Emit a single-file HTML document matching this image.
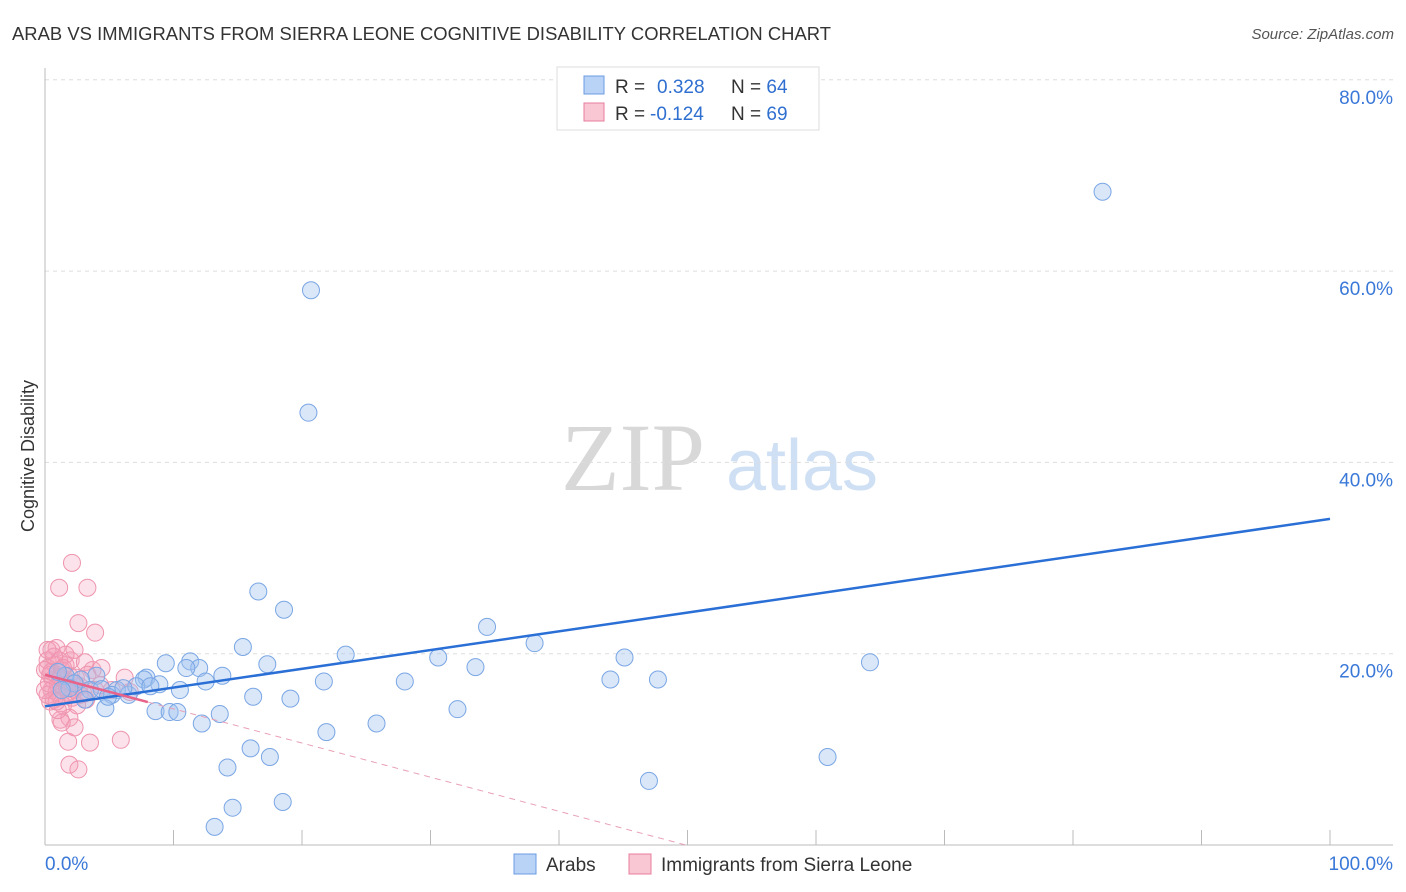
<!DOCTYPE html>
<html><head><meta charset="utf-8"><style>
body{margin:0;background:#fff;font-family:"Liberation Sans",sans-serif;}
svg{display:block}
</style></head><body>
<svg width="1406" height="892" xmlns="http://www.w3.org/2000/svg">
<text x="12" y="40" font-size="18.4" fill="#333" textLength="819">ARAB VS IMMIGRANTS FROM SIERRA LEONE COGNITIVE DISABILITY CORRELATION CHART</text>
<text x="1394" y="39" font-size="15" fill="#555" font-style="italic" text-anchor="end">Source: ZipAtlas.com</text>
<g>
<text x="633" y="490" font-size="96" font-family="Liberation Serif,serif" fill="#d8d8d8" text-anchor="middle">ZIP</text>
<text x="802" y="490" font-size="72" fill="#cfe0f5" text-anchor="middle">atlas</text>
</g>
<g id="grid"></g>
<g id="axes"></g>
<text transform="translate(34,456) rotate(-90)" font-size="18" fill="#333" text-anchor="middle">Cognitive Disability</text>
<g id="marks"></g>
<g>
<rect x="557" y="67" width="262" height="63" fill="#fff" stroke="#ddd"/>
<rect x="584" y="76" width="20" height="18" fill="#b9d3f7" stroke="#6a9be0"/>
<rect x="584" y="103" width="20" height="18" fill="#f9c6d4" stroke="#e87d9c"/>
<text x="615" y="93" font-size="19" fill="#333">R = <tspan fill="#2f6fd0" x="657">0.328</tspan><tspan x="731" fill="#333">N = </tspan><tspan fill="#2f6fd0">64</tspan></text>
<text x="615" y="120" font-size="19" fill="#333">R = <tspan fill="#2f6fd0" x="650">-0.124</tspan><tspan x="731" fill="#333">N = </tspan><tspan fill="#2f6fd0">69</tspan></text>
</g>
<g>
<rect x="514" y="854" width="22" height="20" fill="#b9d3f7" stroke="#6a9be0"/>
<text x="546" y="871" font-size="19" fill="#333">Arabs</text>
<rect x="629" y="854" width="22" height="20" fill="#f9c6d4" stroke="#e87d9c"/>
<text x="661" y="871" font-size="19" fill="#333">Immigrants from Sierra Leone</text>
</g>
</svg>
<script>
const yTicks=[20,40,60,80];
const yTickLabels=["20.0%","40.0%","60.0%","80.0%"];
const xEndLabels=["0.0%","100.0%"];
const arabX=[82.3,20.7,20.5,16.6,18.6,34.4,38.1,15.4,23.4,30.6,45.1,64.2,17.3,33.5,9.4,11.3,12.0,11.0,13.8,12.5,7.9,7.7,8.9,10.5,4.0,2.8,1.6,3.5,4.4,5.6,6.5,5.2,7.1,16.2,19.1,21.7,28.0,44.0,47.7,4.7,8.6,9.7,10.3,13.6,12.2,25.8,32.1,21.9,16.0,17.5,60.9,14.2,47.0,14.6,18.5,13.2,2.3,1.0,1.9,6.1,4.9,8.2,1.3,3.1];
const arabY=[68.3,58.0,45.2,26.5,24.6,22.8,21.1,20.7,19.9,19.6,19.6,19.1,18.9,18.6,19.0,19.2,18.5,18.5,17.7,17.1,17.5,17.3,16.8,16.2,17.7,17.3,17.7,16.2,16.3,16.2,15.7,15.7,16.6,15.5,15.3,17.1,17.1,17.3,17.3,14.3,14.0,13.9,13.9,13.7,12.7,12.7,14.2,11.8,10.1,9.2,9.2,8.1,6.7,3.9,4.5,1.9,16.9,18.1,16.4,16.4,15.5,16.6,16.2,15.2];
const slX=[2.1,1.1,3.3,2.6,3.9,0.5,0.9,0.2,0.8,1.3,0.4,1.6,1.9,1.0,0.5,0.2,1.2,1.8,2.3,2.7,0.7,1.4,2.1,3.7,2.0,3.2,2.5,1.2,1.9,2.3,1.3,1.8,3.5,5.9,1.9,2.6,0.6,0.9,0.3,1.6,1.1,0.2,0.5,1.5,2.1,0.9,0.4,1.0,3.0,3.9,4.3,5.2,6.2,6.6,3.1,1.6,2.3,0.0,0.0,1.2,1.7,2.4,0.7,0.2,4.4,3.3,2.7,0.9,1.4];
const slY=[29.5,26.9,26.9,23.2,22.2,20.4,20.6,19.3,18.8,18.3,17.8,17.3,17.7,16.7,16.2,15.7,15.5,15.9,16.2,16.6,15.2,14.6,15.4,18.3,19.3,15.2,14.6,13.1,13.3,12.3,12.8,10.8,10.7,11.0,8.4,7.9,17.3,17.8,16.9,18.8,19.3,18.5,18.1,16.4,16.9,16.0,15.0,14.1,15.8,16.2,16.7,16.2,17.5,16.0,19.1,19.9,20.4,18.3,16.2,17.5,16.4,17.5,19.7,20.4,18.5,17.8,15.7,15.0,18.5];
const arabTrend=[14.5,34.1];
const slTrend=[17.8,-0.357];
const NS="http://www.w3.org/2000/svg";
const sx=v=>45+v*12.85, sy=v=>845-v*9.565;
function mk(tag,attrs,parent){const e=document.createElementNS(NS,tag);for(const k in attrs)e.setAttribute(k,attrs[k]);parent.appendChild(e);return e;}
const grid=document.getElementById('grid'),axes=document.getElementById('axes'),marks=document.getElementById('marks');
yTicks.forEach((t,i)=>{
 const l=mk('line',{x1:45,x2:1393,y1:sy(t),y2:sy(t),stroke:'#ddd','stroke-dasharray':'4,4'},grid);
 
 
 const tx=mk('text',{x:1393,y:sy(t)+24,'font-size':19,fill:'#3a78d8','text-anchor':'end'},axes);
 tx.textContent=yTickLabels[i];
 
 
});
mk('line',{x1:45,x2:45,y1:68,y2:845,stroke:'#bbb'},axes);
mk('line',{x1:45,x2:1393,y1:845,y2:845,stroke:'#bbb'},axes);
for(let i=1;i<=10;i++){const t=mk('line',{x1:sx(i*10),x2:sx(i*10),y1:830,y2:845,stroke:'#bbb'},axes);
 
 }
const xl0=mk('text',{x:45,y:870,'font-size':19,fill:'#3a78d8'},axes);xl0.textContent=xEndLabels[0];


const xl1=mk('text',{x:1393,y:870,'font-size':19,fill:'#3a78d8','text-anchor':'end'},axes);xl1.textContent=xEndLabels[1];


slX.forEach((x,i)=>{const c=mk('circle',{cx:sx(x),cy:sy(slY[i]),r:8.5,fill:'rgba(244,160,185,0.3)',stroke:'#ee94ae','stroke-width':1},marks);
 
 });
arabX.forEach((x,i)=>{const c=mk('circle',{cx:sx(x),cy:sy(arabY[i]),r:8.5,fill:'rgba(160,195,240,0.4)',stroke:'#7aa6e4','stroke-width':1},marks);
 
 });
const bt=mk('line',{x1:sx(0),y1:sy(arabTrend[0]),x2:sx(100),y2:sy(arabTrend[1]),stroke:'#2a6fd6','stroke-width':2.5},marks);


const f=x=>slTrend[0]+slTrend[1]*x;
const pt=mk('line',{x1:sx(0),y1:sy(f(0)),x2:sx(8),y2:sy(f(8)),stroke:'#e8638a','stroke-width':2.5},marks);


const xe=-slTrend[0]/slTrend[1];
const pd=mk('line',{x1:sx(8),y1:sy(f(8)),x2:sx(xe),y2:sy(0),stroke:'#e8a0b5','stroke-width':1,'stroke-dasharray':'6,5'},marks);


</script>
</body></html>
